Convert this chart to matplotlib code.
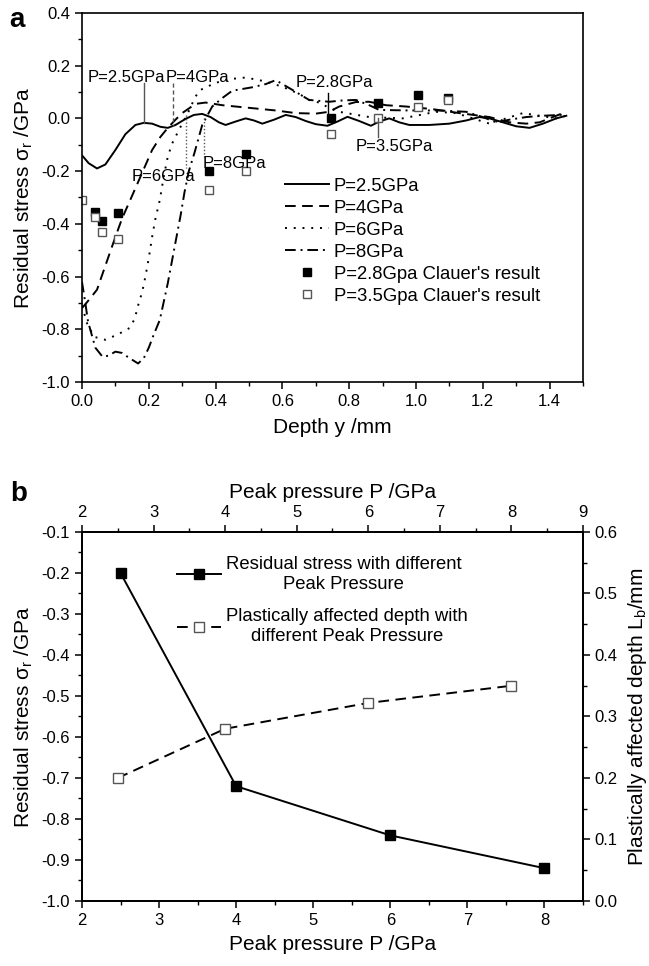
import numpy as np
import matplotlib.pyplot as plt
from matplotlib.ticker import MultipleLocator

plt.rcParams['font.family'] = ['Liberation Sans', 'DejaVu Sans']
plt.rcParams['mathtext.fontset'] = 'custom'
plt.rcParams['mathtext.rm'] = 'Liberation Sans'
plt.rcParams['mathtext.it'] = 'Liberation Sans:italic'
plt.rcParams['axes.linewidth'] = 1.2

# (a) residual stress profiles vs depth
depth_25 = [0.0, 0.02, 0.045, 0.07, 0.10, 0.13, 0.16, 0.185, 0.21, 0.235, 0.257, 0.28, 0.31,
            0.335, 0.36, 0.385, 0.41, 0.43, 0.46, 0.49, 0.515, 0.54, 0.575, 0.61, 0.64, 0.67,
            0.70, 0.735, 0.765, 0.795, 0.83, 0.865, 0.89, 0.92, 0.95, 0.98, 1.04, 1.1, 1.15,
            1.19, 1.22, 1.26, 1.30, 1.34, 1.38, 1.42, 1.45]
sigma_25 = [-0.14, -0.17, -0.19, -0.175, -0.12, -0.06, -0.025, -0.017, -0.02, -0.032, -0.036,
            -0.025, -0.002, 0.013, 0.017, 0.005, -0.015, -0.025, -0.012, 0.0, -0.008, -0.02,
            -0.005, 0.013, 0.005, -0.01, -0.022, -0.028, -0.012, 0.006, -0.01, -0.028, -0.012,
            0.0, -0.015, -0.025, -0.025, -0.02, -0.008, 0.005, 0.0, -0.015, -0.03, -0.036,
            -0.02, 0.0, 0.01]

depth_4 = [0.0, 0.02, 0.045, 0.078, 0.10, 0.12, 0.16, 0.21, 0.235, 0.257, 0.28, 0.30, 0.34,
           0.37, 0.42, 0.46, 0.50, 0.58, 0.64, 0.70, 0.74, 0.77, 0.82, 0.86, 0.91, 0.97, 1.05,
           1.13, 1.22, 1.28, 1.33, 1.37, 1.44]
sigma_4 = [-0.72, -0.69, -0.65, -0.53, -0.45, -0.38, -0.265, -0.12, -0.07, -0.036, -0.005,
           0.02, 0.055, 0.06, 0.05, 0.045, 0.04, 0.03, 0.02, 0.018, 0.025, 0.045, 0.062, 0.063,
           0.05, 0.045, 0.035, 0.02, 0.005, -0.015, -0.02, -0.015, 0.02]

depth_6 = [0.0, 0.018, 0.04, 0.07, 0.107, 0.143, 0.158, 0.168, 0.18, 0.19, 0.20, 0.21, 0.22,
           0.233, 0.245, 0.257, 0.27, 0.286, 0.30, 0.317, 0.335, 0.35, 0.40, 0.45, 0.49, 0.55,
           0.60, 0.65, 0.68, 0.71, 0.74, 0.77, 0.86, 0.96, 1.06, 1.12, 1.17, 1.22, 1.27, 1.32,
           1.37, 1.42, 1.45]
sigma_6 = [-0.71, -0.79, -0.83, -0.84, -0.82, -0.795, -0.76, -0.71, -0.66, -0.60, -0.53, -0.45,
           -0.38, -0.31, -0.22, -0.145, -0.095, -0.055, -0.02, 0.02, 0.07, 0.105, 0.135, 0.15,
           0.155, 0.14, 0.12, 0.093, 0.07, 0.06, 0.04, 0.025, 0.005, 0.0, 0.025, 0.02, 0.0,
           -0.02, 0.0, 0.02, 0.01, 0.0, 0.01]

depth_8 = [0.0, 0.01, 0.018, 0.04, 0.062, 0.08, 0.10, 0.12, 0.137, 0.168, 0.185, 0.20, 0.215,
           0.233, 0.257, 0.28, 0.295, 0.307, 0.32, 0.337, 0.36, 0.39, 0.42, 0.45, 0.51, 0.55,
           0.58, 0.63, 0.68, 0.74, 0.78, 0.82, 0.86, 0.89, 0.98, 1.07, 1.15, 1.2, 1.24, 1.28,
           1.33, 1.38, 1.43, 1.45]
sigma_8 = [-0.62, -0.70, -0.77, -0.87, -0.905, -0.90, -0.885, -0.89, -0.905, -0.93, -0.91,
           -0.87, -0.82, -0.765, -0.625, -0.47, -0.37, -0.28, -0.2, -0.13, -0.025, 0.045,
           0.077, 0.105, 0.118, 0.13, 0.145, 0.108, 0.07, 0.063, 0.068, 0.07, 0.05, 0.032,
           0.03, 0.03, 0.025, 0.005, -0.015, -0.005, 0.005, 0.01, 0.013, 0.015]

# Clauer's measurements
clauer28_depth = [0.04, 0.06, 0.107, 0.38, 0.49, 0.746, 0.887, 1.006, 1.095]
clauer28_sigma = [-0.355, -0.39, -0.36, -0.20, -0.135, 0.0, 0.058, 0.089, 0.077]
clauer35_depth = [0.0, 0.04, 0.06, 0.108, 0.38, 0.49, 0.746, 0.887, 1.006, 1.095]
clauer35_sigma = [-0.31, -0.375, -0.43, -0.457, -0.27, -0.20, -0.06, 0.0, 0.045, 0.07]

# (b) surface residual stress and affected depth vs peak pressure
peak_p = [2.5, 4.0, 6.0, 8.0]
surf_sigma = [-0.20, -0.72, -0.84, -0.92]
depth_p = [2.5, 4.0, 6.0, 8.0]
affected_depth = [0.20, 0.28, 0.322, 0.35]

fig = plt.figure(figsize=(6.49, 9.66), dpi=100)
ax1 = fig.add_axes([0.1263, 0.6046, 0.772, 0.382])
ax2 = fig.add_axes([0.1263, 0.0673, 0.772, 0.382])

lw = 1.4
ax1.plot(depth_25, sigma_25, color='black', lw=lw, label='P=2.5GPa')
ax1.plot(depth_4, sigma_4, color='black', lw=lw, dashes=(5.5, 3.3), label='P=4GPa')
ax1.plot(depth_6, sigma_6, color='black', lw=lw, dashes=(1, 3.5), label='P=6GPa')
ax1.plot(depth_8, sigma_8, color='black', lw=lw, dashes=(5.5, 2.5, 1, 2.5), label='P=8GPa')
ax1.plot(clauer28_depth, clauer28_sigma, ls='none', marker='s', ms=6, mfc='black', mec='black',
         label="P=2.8Gpa Clauer's result")
ax1.plot(clauer35_depth, clauer35_sigma, ls='none', marker='s', ms=6, mfc='white', mec='#555555',
         mew=1.0, label="P=3.5Gpa Clauer's result")

# curve callouts
fs_ann = 12
ax1.plot([0.185, 0.185], [0.135, -0.017], color='#555555', lw=1.0)
ax1.plot([0.272, 0.272], [0.135, -0.03], color='#555555', lw=1.0, dashes=(3, 2))
ax1.plot([0.31, 0.31], [0.013, -0.19], color='#555555', lw=1.0, dashes=(1, 1.5))
ax1.plot([0.364, 0.364], [0.0, -0.145], color='#555555', lw=1.0, dashes=(1, 1.5))
ax1.plot([0.737, 0.737], [0.097, 0.013], color='black', lw=1.0)
ax1.plot([0.887, 0.887], [0.0, -0.07], color='#555555', lw=1.0)
ax1.text(0.018, 0.155, 'P=2.5GPa', fontsize=fs_ann, va='center', ha='left')
ax1.text(0.25, 0.155, 'P=4GPa', fontsize=fs_ann, va='center', ha='left')
ax1.text(0.149, -0.22, 'P=6GPa', fontsize=fs_ann, va='center', ha='left')
ax1.text(0.36, -0.17, 'P=8GPa', fontsize=fs_ann, va='center', ha='left')
ax1.text(0.64, 0.135, 'P=2.8GPa', fontsize=fs_ann, va='center', ha='left')
ax1.text(0.82, -0.105, 'P=3.5GPa', fontsize=fs_ann, va='center', ha='left')

ax1.set_xlim(0, 1.5)
ax1.set_ylim(-1.0, 0.4)
ax1.xaxis.set_major_locator(MultipleLocator(0.2))
ax1.xaxis.set_minor_locator(MultipleLocator(0.1))
ax1.yaxis.set_major_locator(MultipleLocator(0.2))
ax1.yaxis.set_minor_locator(MultipleLocator(0.1))
ax1.xaxis.set_major_formatter(lambda v, p: f'{v:.1f}')
ax1.yaxis.set_major_formatter(lambda v, p: f'{v:.1f}')
ax1.set_xlabel('Depth y /mm', fontsize=15, labelpad=7)
ax1.set_ylabel(r'Residual stress σ$_\mathregular{r}$ /GPa', fontsize=15, labelpad=5)
ax1.legend(loc='upper left', bbox_to_anchor=(0.405, 0.553), frameon=False, fontsize=13.3,
           handlelength=2.4, handletextpad=0.25, labelspacing=0.27, borderpad=0,
           borderaxespad=0)
fig.text(17 / 649, 1 - 20 / 966, 'a', fontsize=20, fontweight='bold', va='center', ha='center')

# panel b: stress on bottom/left, affected depth on top/right
ax2.plot(peak_p, surf_sigma, color='black', lw=lw, marker='s', ms=6.5, mfc='black', mec='black',
         label='Residual stress with different\nPeak Pressure')
ax2.set_xlim(2, 8.5)
ax2.set_ylim(-1.0, -0.1)
ax2.xaxis.set_major_locator(MultipleLocator(1))
ax2.xaxis.set_minor_locator(MultipleLocator(0.5))
ax2.yaxis.set_major_locator(MultipleLocator(0.1))
ax2.yaxis.set_minor_locator(MultipleLocator(0.05))
ax2.yaxis.set_major_formatter(lambda v, p: f'{v:.1f}')
ax2.set_xlabel('Peak pressure P /GPa', fontsize=15, labelpad=5)
ax2.set_ylabel(r'Residual stress σ$_\mathregular{r}$ /GPa', fontsize=15, labelpad=5)

axr = ax2.twinx()
axr.set_ylim(0.0, 0.6)
axr.yaxis.set_major_locator(MultipleLocator(0.1))
axr.yaxis.set_minor_locator(MultipleLocator(0.05))
axr.yaxis.set_major_formatter(lambda v, p: f'{v:.1f}')
axr.set_ylabel(r'Plastically affected depth L$_\mathregular{b}$/mm', fontsize=15, labelpad=6)

axt = axr.twiny()
axt.plot(depth_p, affected_depth, color='black', lw=lw, dashes=(5.5, 3.3), marker='s', ms=6.5,
         mfc='white', mec='#555555', mew=1.0,
         label='Plastically affected depth with\ndifferent Peak Pressure')
axt.set_xlim(2, 9)
axt.xaxis.set_major_locator(MultipleLocator(1))
axt.xaxis.set_minor_locator(MultipleLocator(0.5))
axt.set_xlabel('Peak pressure P /GPa', fontsize=15, labelpad=5)

h1, l1 = ax2.get_legend_handles_labels()
h2, l2 = axt.get_legend_handles_labels()
leg = axt.legend(h1 + h2, l1 + l2, loc='upper left', bbox_to_anchor=(0.19, 0.935),
                 frameon=False, fontsize=13.3, handlelength=2.4, handletextpad=0.25,
                 labelspacing=0.85, borderpad=0, borderaxespad=0)
for t in leg.get_texts():
    t.set_multialignment('center')
fig.text(19 / 649, 1 - 494 / 966, 'b', fontsize=20, fontweight='bold', va='center', ha='center')

for ax in (ax1, ax2, axr, axt):
    ax.tick_params(which='major', direction='out', length=5, width=1.1, labelsize=12)
    ax.tick_params(which='minor', direction='out', length=3, width=1.0)
ax1.tick_params(top=False, right=False, which='both')
ax2.tick_params(top=False, right=False, which='both')

fig.savefig('out.png', dpi=100, facecolor='white')
